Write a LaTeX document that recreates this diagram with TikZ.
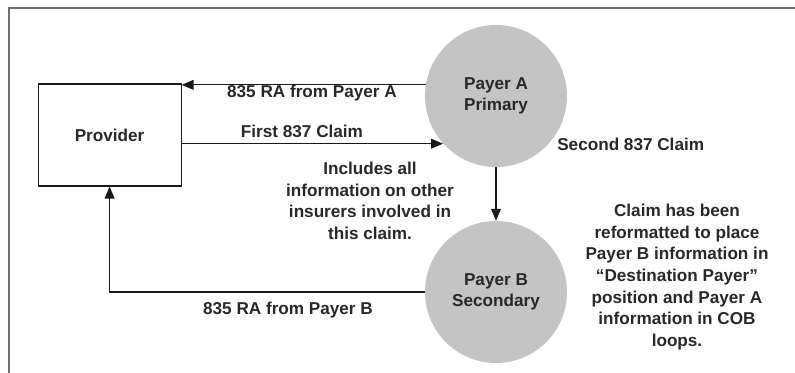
\documentclass[tikz,border=0pt]{standalone}
\usepackage{fontspec}
\setmainfont{Liberation Sans}
\usepackage{xcolor}
\usepackage{tikz}
\usetikzlibrary{arrows.meta, positioning, calc}
\definecolor{mydark}{RGB}{25,25,25}
\definecolor{mytext}{RGB}{40,40,40}
\definecolor{myframe}{RGB}{110,110,110}
\definecolor{mycircle}{RGB}{196,196,196}
\tikzset{
  partybox/.style={rectangle, draw=mydark, fill=white, line width=0.8pt,
    minimum width=3.575cm, minimum height=2.55cm, inner sep=0pt,
    font=\bfseries\fontsize{12.2}{15.4}\selectfont, text=mytext},
  payer/.style={circle, fill=mycircle, minimum size=3.55cm, inner sep=0pt,
    align=center, font=\bfseries\fontsize{12.2}{15.4}\selectfont, text=mytext},
  lbl/.style={font=\bfseries\fontsize{12.2}{15.4}\selectfont, text=mytext},
  note/.style={align=center, font=\bfseries\fontsize{12.2}{15.4}\selectfont,
    text=mytext, inner sep=0pt},
  arrow/.style={-{Triangle[width=7pt,length=8.5pt]}, line width=0.9pt, color=mydark}
}
\begin{document}
\begin{tikzpicture}
  \useasboundingbox (0,0) rectangle (19.875,9.325);

  % Frame (top and left edges only)
  \draw[myframe, line width=1.4pt] (0.225,0) |- (19.875,9.125);

  % Parties
  \node[partybox] (provider) at (2.74,5.95) {Provider};
  \node[payer] (payerA) at (12.4,6.925) {Payer A\\Primary};
  \node[payer] (payerB) at (12.4,2.025) {Payer B\\Secondary};

  % Connections
  \draw[arrow] (payerA.171) -- (payerA.171 -| provider.east);
  \draw[arrow] (provider.east |- payerA.222.5) -- (payerA.222.5);
  \draw[arrow] (payerA.south) -- (payerB.north);
  \draw[arrow] (payerB.west) -| (provider.south);

  % Labels
  \node[lbl] (raA) at (7.8,7.0) {835 RA from Payer A};
  \node[lbl] (first) at (7.55,6.05) {First 837 Claim};
  \node[lbl] (raB) at (7.2,1.575) {835 RA from Payer B};
  \node[lbl, anchor=west, inner sep=0pt] (second) at (13.925,5.725) {Second 837 Claim};
  \node[note] (includes) at (9.25,4.3) {Includes all\\information on other\\insurers involved in\\this claim.};
  \node[note] (reformat) at (16.925,2.4) {Claim has been\\reformatted to place\\Payer B information in\\“Destination Payer”\\position and Payer A\\information in COB\\loops.};
\end{tikzpicture}
\end{document}
